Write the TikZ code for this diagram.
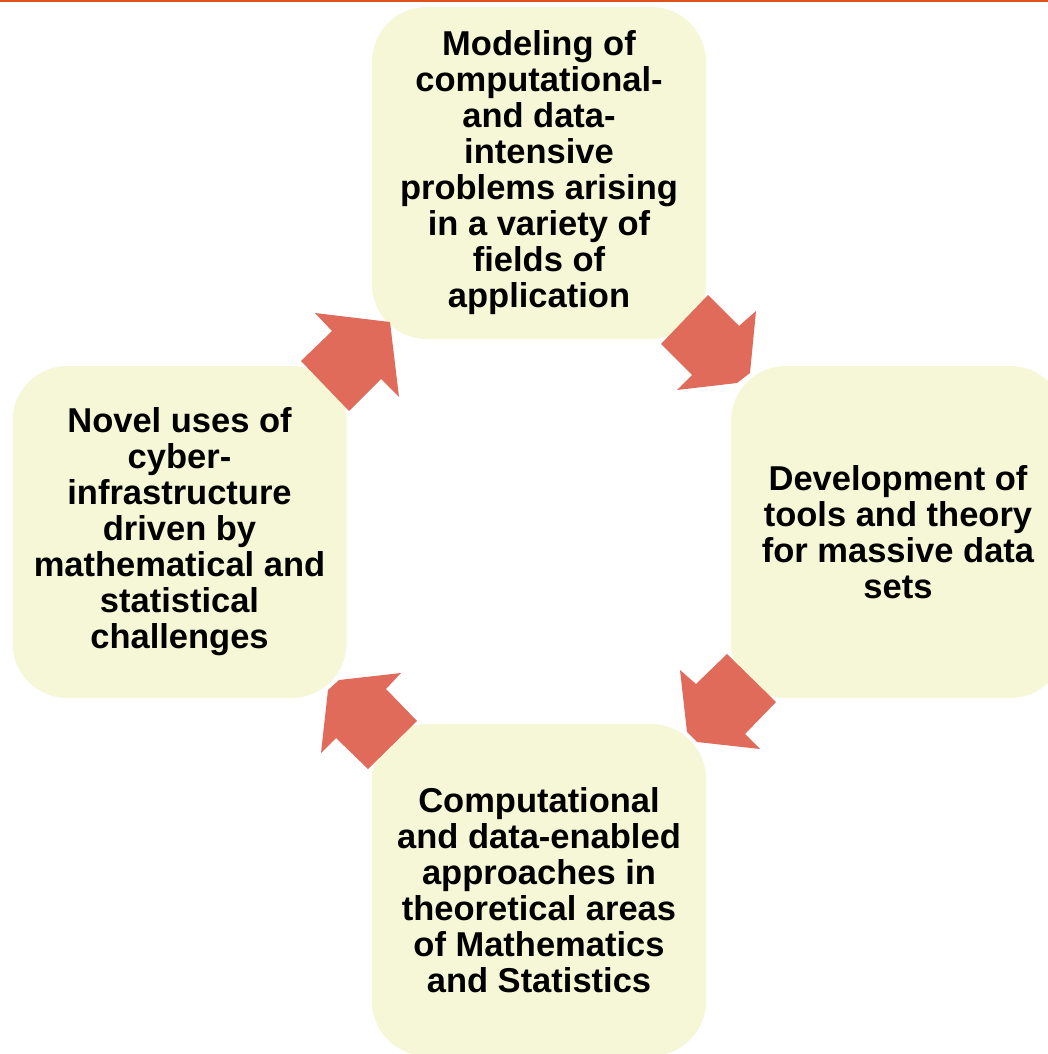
\documentclass[tikz,border=0pt]{standalone}
\usepackage{fontspec}
\setmainfont{Liberation Sans}
\definecolor{boxfill}{HTML}{F5F7D6}
\definecolor{arrowfill}{HTML}{E06B5B}
\definecolor{topline}{HTML}{E0501E}
\begin{document}
\begin{tikzpicture}[x=1pt,y=-1pt,
  cyclebox/.style={fill=boxfill,draw=none,rounded corners=55pt,minimum width=334pt,minimum height=332pt,
    inner sep=0pt,align=center,font=\fontsize{34.5}{36}\selectfont\bfseries},
  blockarrow/.style={fill=arrowfill,draw=none}]
\useasboundingbox (0,0) rectangle (1048,1054);
\clip (0,0) rectangle (1048,1054);
\fill[white] (0,0) rectangle (1048,1054);
\draw[topline,line width=2.5pt] (0,0.8) -- (1048,0.8);
\node[cyclebox] (top) at (539,173) {Modeling of\\computational-\\and data-\\intensive\\problems arising\\in a variety of\\fields of\\application};
\node[cyclebox] (right) at (898,532) {Development of\\tools and theory\\for massive data\\sets};
\node[cyclebox] (bottom) at (539,890) {Computational\\and data-enabled\\approaches in\\theoretical areas\\of Mathematics\\and Statistics};
\node[cyclebox] (left) at (179.5,532) {Novel uses of\\cyber-\\infrastructure\\driven by\\mathematical and\\statistical\\challenges};
\fill[blockarrow] (315,313) -- (390,322) -- (399,397) -- (381,379) -- (349,411) -- (301,361) -- (332,331) -- cycle;
\fill[blockarrow] (708,295) -- (739,326) -- (756,311) -- (750,373) -- (737,383) -- (677,390) -- (692,375) -- (661,344) -- cycle;
\fill[blockarrow] (727,654) -- (776,702) -- (745,734) -- (760,749) -- (697,742) -- (687,732) -- (680,670) -- (696,684) -- cycle;
\fill[blockarrow] (401,673) -- (386,689) -- (417,721) -- (368,769) -- (336,738) -- (321,753) -- (328,690) -- (339,680) -- cycle;
\end{tikzpicture}
\end{document}
